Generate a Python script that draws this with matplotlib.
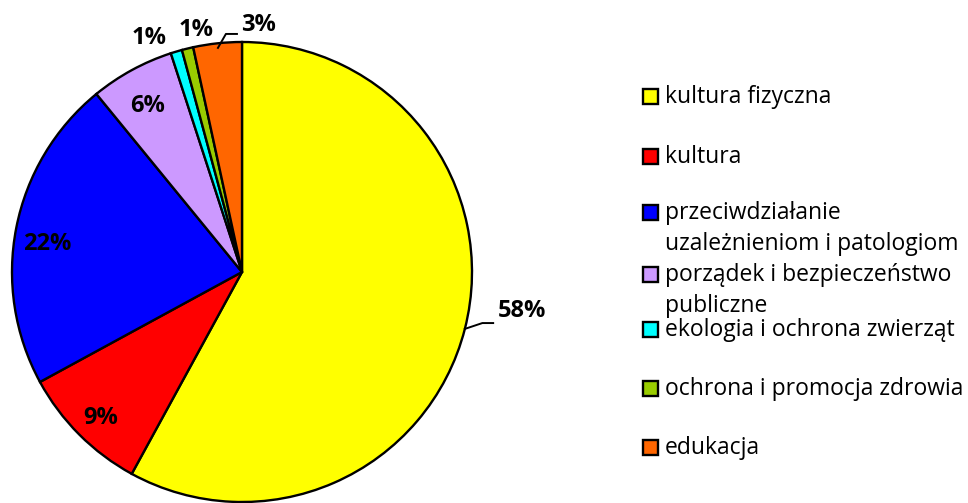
import numpy as np
import matplotlib
matplotlib.use("Agg")
import matplotlib.pyplot as plt
from matplotlib.patches import Rectangle

categories = ["kultura fizyczna", "kultura",
              "przeciwdziałanie\nuzależnieniom i patologiom",
              "porządek i bezpieczeństwo\npubliczne",
              "ekologia i ochrona zwierząt",
              "ochrona i promocja zdrowia", "edukacja"]
values = [57.9, 9.1, 22.0, 5.9, 0.8, 0.8, 3.4]
colors = ["#FFFF00", "#FF0000", "#0000FF", "#CC99FF", "#00FFFF", "#99CC00", "#FF6600"]

plt.rcParams['font.family'] = ['Open Sans', 'DejaVu Sans']

fig = plt.figure(figsize=(9.68, 5.03), dpi=100)
ax = fig.add_axes([12/968, 1/503, 460/968, 460/503])
wedges, _ = ax.pie(values, colors=colors, startangle=90, counterclock=False,
                   wedgeprops=dict(edgecolor="black", linewidth=1.7))
for w in wedges:
    w.set_clip_on(False)
ax.set_xlim(-1, 1)
ax.set_ylim(-1, 1)
ax.set_aspect("equal")
ax.axis("off")

total = sum(values)
# label placement: radius factor and angle nudge (deg)
lab_r = [1.0, 0.885, 0.857, 0.83, 1.093, 1.072, 1.0]
lab_nudge = [0, 1, 3, 1, 5, -3, 0]
leader = [True, False, False, False, False, False, True]
LFS = 17
cum = 0
for i, (v, w) in enumerate(zip(values, wedges)):
    mid = 90 - (cum + v / 2) / total * 360
    cum += v
    pct = f"{round(v / total * 100):.0f}%"
    if leader[i]:
        a = np.deg2rad(mid)
        if i == 0:
            x0, y0 = np.cos(a), np.sin(a)
            ex, ey = 1.045, -0.222
            hx = 1.092
            ax.plot([x0, ex, hx], [y0, ey, ey], color="black", lw=1.4, clip_on=False)
            ax.text(hx + 0.02, ey + 0.0, pct, ha="left", va="bottom",
                    fontsize=LFS, fontweight="bold")
        else:
            x0, y0 = 0.98*np.cos(a), 0.98*np.sin(a)
            ex, ey = -0.07, 1.035
            hx = -0.022
            ax.plot([x0, ex, hx], [y0, ey, ey], color="black", lw=1.4, clip_on=False)
            ax.text(hx + 0.02, ey - 0.015, pct, ha="left", va="bottom",
                    fontsize=LFS, fontweight="bold")
    else:
        a = np.deg2rad(mid + lab_nudge[i])
        ax.text(lab_r[i]*np.cos(a), lab_r[i]*np.sin(a), pct, ha="center", va="center",
                fontsize=LFS, fontweight="bold")

# manual legend
W, H = 968, 503
line_y = [97, 157, 213, 275, 330, 389, 448]
for c, lab, y in zip(colors, categories, line_y):
    fig.patches.append(Rectangle((643/W, 1 - (y + 7)/H), 15/W, 15/H,
                                 transform=fig.transFigure, facecolor=c,
                                 edgecolor="black", linewidth=1.7))
    for k, ln in enumerate(lab.split("\n")):
        fig.text(665/W, 1 - (y + k*31)/H, ln, ha="left", va="center", fontsize=16.5)

fig.savefig("out.png", dpi=100)
